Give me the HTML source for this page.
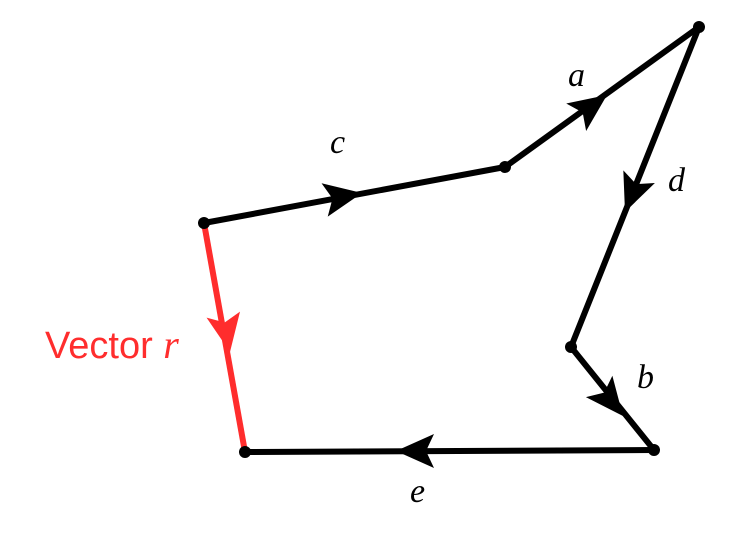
<!DOCTYPE html>
<html><head><style>body{margin:0;background:#fff}svg{display:block}</style></head><body>
<svg width="750" height="539" viewBox="0 0 750 539" xmlns="http://www.w3.org/2000/svg">
<defs><path id="ah" d="M0,0 L-38,-17 L-30,0 L-38,17 Z"/></defs>
<g stroke="#000" stroke-width="6" stroke-linecap="round">
<line x1="204" y1="223" x2="505" y2="167"/>
<line x1="505" y1="167" x2="699" y2="27"/>
<line x1="699" y1="27" x2="571" y2="347"/>
<line x1="571" y1="347" x2="654" y2="450"/>
<line x1="654" y1="450" x2="245" y2="452"/>
</g>
<line x1="204" y1="223" x2="245" y2="452" stroke="#ff2d2d" stroke-width="6"/>
<use href="#ah" transform="translate(362,193) rotate(-10.5)"/>
<use href="#ah" transform="translate(607,95) rotate(-35.8)"/>
<use href="#ah" transform="translate(625,212) rotate(111.8)"/>
<use href="#ah" transform="translate(623,416) rotate(51.1)"/>
<use href="#ah" transform="translate(396,451) rotate(180)"/>
<use href="#ah" fill="#ff2d2d" transform="translate(230,352) rotate(79.8)"/>
<g fill="#000">
<circle cx="204" cy="223" r="6"/><circle cx="505" cy="167" r="6"/><circle cx="699" cy="27" r="6"/>
<circle cx="571" cy="347" r="6"/><circle cx="654" cy="450" r="6"/><circle cx="245" cy="452" r="6"/>
</g>
<g font-family="Liberation Serif, serif" font-style="italic" font-size="34" fill="#000">
<text x="330" y="153">c</text>
<text x="568" y="86">a</text>
<text x="668" y="191">d</text>
<text x="637" y="388">b</text>
<text x="410" y="502">e</text>
</g>
<text x="45" y="358" font-family="Liberation Sans, sans-serif" font-size="38" fill="#ff2d2d">Vector <tspan font-family="Liberation Serif, serif" font-style="italic" font-size="40">r</tspan></text>
</svg>
</body></html>
